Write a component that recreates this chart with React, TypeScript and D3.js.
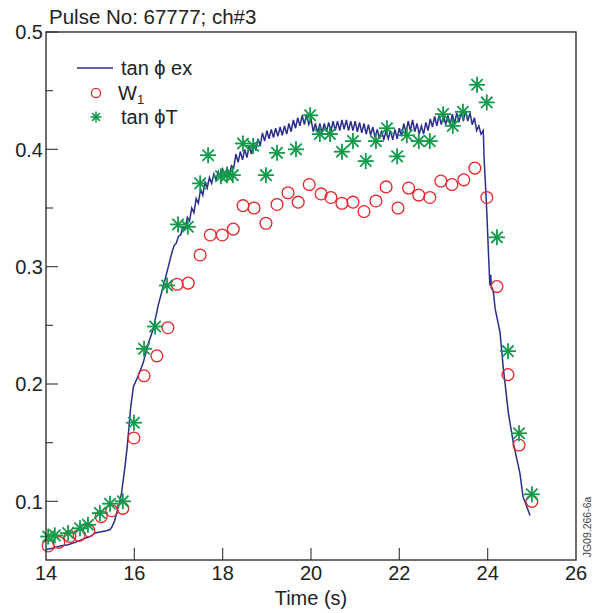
import React from "react";
import * as d3 from "d3";

const title = "Pulse No: 67777; ch#3";
const xTicks = [14, 16, 18, 20, 22, 24, 26];
const yTicks = [0.1, 0.2, 0.3, 0.4, 0.5];
const yMinorTicks = [0.15, 0.25, 0.35, 0.45];

// tan phi ex: rising edge (explicit samples)
const exRiseT = [14.0, 14.15, 14.32, 14.5, 14.66, 14.85, 15.0, 15.11, 15.25, 15.37, 15.45, 15.49, 15.55, 15.6, 15.66, 15.71, 15.79, 15.84, 15.92, 15.98, 16.09, 16.2, 16.32, 16.43, 16.54, 16.66, 16.77, 16.85];
const exRiseV = [0.059, 0.06, 0.062, 0.063, 0.065, 0.068, 0.07, 0.073, 0.074, 0.075, 0.076, 0.078, 0.083, 0.09, 0.098, 0.107, 0.13, 0.147, 0.181, 0.198, 0.207, 0.218, 0.235, 0.247, 0.267, 0.284, 0.3, 0.312];
// plateau, sampled every 0.05 s from 16.90 s
const exPlateauStart = 16.9;
const exPlateauStep = 0.05;
const exPlateauV = [
  0.318, 0.32, 0.326, 0.327, 0.334, 0.332, 0.342, 0.339, 0.35, 0.346,
  0.358, 0.354, 0.366, 0.361, 0.372, 0.367, 0.376, 0.371, 0.379, 0.374,
  0.381, 0.376, 0.383, 0.377, 0.384, 0.378, 0.386, 0.384, 0.396, 0.389,
  0.398, 0.391, 0.4, 0.393, 0.403, 0.396, 0.406, 0.399, 0.409, 0.403,
  0.414, 0.407, 0.416, 0.409, 0.417, 0.41, 0.418, 0.411, 0.419, 0.412,
  0.42, 0.413, 0.422, 0.415, 0.425, 0.418, 0.427, 0.42, 0.429, 0.421,
  0.43, 0.421, 0.426, 0.415, 0.422, 0.414, 0.422, 0.414, 0.422, 0.415,
  0.423, 0.415, 0.424, 0.416, 0.424, 0.416, 0.425, 0.417, 0.425, 0.416,
  0.424, 0.416, 0.424, 0.415, 0.423, 0.414, 0.422, 0.413, 0.421, 0.412,
  0.419, 0.41, 0.417, 0.409, 0.416, 0.408, 0.416, 0.409, 0.416, 0.408,
  0.417, 0.409, 0.418, 0.411, 0.422, 0.414, 0.424, 0.416, 0.425, 0.415,
  0.422, 0.413, 0.42, 0.413, 0.423, 0.416, 0.426, 0.419, 0.428, 0.42,
  0.429, 0.421, 0.429, 0.421, 0.429, 0.421, 0.43, 0.422, 0.431, 0.423,
  0.432, 0.424, 0.433, 0.424, 0.431, 0.421, 0.427, 0.416, 0.42, 0.413,
  0.416,
];
// falling edge (explicit samples)
const exFallT = [23.92, 23.95, 23.98, 24.02, 24.05, 24.07, 24.08, 24.1, 24.13, 24.17, 24.28, 24.35, 24.47, 24.58, 24.73, 24.8, 24.96];
const exFallV = [0.392, 0.37, 0.347, 0.31, 0.284, 0.293, 0.283, 0.282, 0.278, 0.264, 0.244, 0.215, 0.175, 0.15, 0.124, 0.104, 0.088];

// W1 (circles)
const w1T = [14.05, 14.29, 14.54, 14.75, 14.97, 15.25, 15.49, 15.74, 15.99, 16.22, 16.51, 16.76, 16.97, 17.22, 17.49, 17.72, 17.99, 18.24, 18.46, 18.71, 18.98, 19.23, 19.48, 19.71, 19.96, 20.23, 20.45, 20.7, 20.95, 21.2, 21.47, 21.7, 21.97, 22.21, 22.44, 22.69, 22.94, 23.19, 23.46, 23.71, 23.98, 24.21, 24.46, 24.71, 25.0];
const w1V = [0.062, 0.065, 0.07, 0.071, 0.075, 0.087, 0.092, 0.094, 0.154, 0.207, 0.224, 0.248, 0.285, 0.286, 0.31, 0.327, 0.327, 0.332, 0.352, 0.35, 0.337, 0.353, 0.363, 0.355, 0.37, 0.362, 0.359, 0.354, 0.355, 0.347, 0.356, 0.368, 0.35, 0.367, 0.361, 0.359, 0.373, 0.37, 0.374, 0.384, 0.359, 0.283, 0.208, 0.148, 0.1];

// tan phi T (asterisks)
const tT = [14.05, 14.2, 14.5, 14.77, 14.95, 15.22, 15.45, 15.74, 15.99, 16.22, 16.47, 16.74, 16.99, 17.21, 17.49, 17.67, 17.96, 18.1, 18.23, 18.46, 18.69, 18.98, 19.23, 19.66, 19.98, 20.2, 20.43, 20.7, 20.95, 21.24, 21.47, 21.72, 21.95, 22.17, 22.44, 22.69, 22.99, 23.21, 23.44, 23.76, 23.98, 24.21, 24.46, 24.71, 25.0];
const tV = [0.07, 0.071, 0.073, 0.077, 0.08, 0.09, 0.098, 0.1, 0.167, 0.23, 0.249, 0.284, 0.336, 0.334, 0.371, 0.395, 0.377, 0.378, 0.378, 0.405, 0.403, 0.378, 0.397, 0.4, 0.429, 0.413, 0.413, 0.398, 0.407, 0.39, 0.407, 0.418, 0.394, 0.412, 0.407, 0.407, 0.43, 0.42, 0.432, 0.455, 0.44, 0.325, 0.228, 0.158, 0.106];

const BLUE = "#2a2d8c";
const RED = "#e8262c";
const GREEN = "#119a4a";
const FONT = "'Liberation Sans', Arial, Helvetica, sans-serif";

const L = 46, R = 576, T = 32, B = 560;

function Asterisk({ x, y, r, sw }: { x: number; y: number; r: number; sw: number }) {
  const d = r * Math.SQRT1_2;
  return (
    <g stroke={GREEN} strokeWidth={sw} strokeLinecap="butt">
      <line x1={x - r} y1={y} x2={x + r} y2={y} />
      <line x1={x} y1={y - r} x2={x} y2={y + r} />
      <line x1={x - d} y1={y - d} x2={x + d} y2={y + d} />
      <line x1={x - d} y1={y + d} x2={x + d} y2={y - d} />
    </g>
  );
}

export default function App() {
  const x = d3.scaleLinear().domain([14, 26]).range([L, R]);
  const y = d3.scaleLinear().domain([0.05, 0.5]).range([B, T]);

  const exPts: [number, number][] = [];
  exRiseT.forEach((t, i) => exPts.push([t, exRiseV[i]]));
  exPlateauV.forEach((v, i) => exPts.push([exPlateauStart + i * exPlateauStep, v]));
  exFallT.forEach((t, i) => exPts.push([t, exFallV[i]]));

  const line = d3
    .line<[number, number]>()
    .x((d) => x(d[0]))
    .y((d) => y(d[1]));

  return (
    <svg
      width={596}
      height={613}
      style={{ position: "absolute", left: 0, top: 0, background: "#fff" }}
      fontFamily={FONT}
    >
      <rect x={0} y={0} width={596} height={613} fill="#fff" />
      {/* title */}
      <text x={49} y={24} fontSize={20.5} fill="#222">{title}</text>

      {/* y ticks */}
      {yTicks.map((v) => (
        <g key={"y" + v}>
          <line x1={L} x2={L + 12} y1={y(v)} y2={y(v)} stroke="#444" strokeWidth={1.2} />
          <text x={43} y={y(v)} dy="0.36em" textAnchor="end" fontSize={20} fill="#222">
            {v.toFixed(1)}
          </text>
        </g>
      ))}
      {yMinorTicks.map((v) => (
        <line key={"ym" + v} x1={L} x2={L + 7} y1={y(v)} y2={y(v)} stroke="#444" strokeWidth={1.2} />
      ))}
      {/* x ticks */}
      {xTicks.map((v) => (
        <g key={"x" + v}>
          {v > 14 && v < 26 && (
            <line x1={x(v)} x2={x(v)} y1={B} y2={B - 12} stroke="#444" strokeWidth={1.2} />
          )}
          <text x={x(v)} y={580} textAnchor="middle" fontSize={20} fill="#222">
            {v}
          </text>
        </g>
      ))}
      <text x={(L + R) / 2} y={605} textAnchor="middle" fontSize={20} fill="#222">
        Time (s)
      </text>
      <text
        transform={`translate(591, 527) rotate(-90)`}
        textAnchor="middle"
        fontSize={10.5}
        fill="#444"
      >
        JG09.266-6a
      </text>

      {/* data */}
      <path d={line(exPts) || ""} fill="none" stroke={BLUE} strokeWidth={1.5} />
      {w1T.map((t, i) => (
        <circle key={"c" + i} cx={x(t)} cy={y(w1V[i])} r={5.9} fill="none" stroke={RED} strokeWidth={1.3} />
      ))}
      {tT.map((t, i) => (
        <Asterisk key={"a" + i} x={x(t)} y={y(tV[i])} r={8} sw={1.8} />
      ))}

      {/* frame */}
      <rect x={L} y={T} width={R - L} height={B - T} fill="none" stroke="#222" strokeWidth={1.3} />

      {/* legend */}
      <line x1={77} x2={113} y1={68} y2={68} stroke={BLUE} strokeWidth={1.5} />
      <text x={121} y={75} fontSize={20} fill="#222">tan ϕ ex</text>
      <circle cx={96} cy={93} r={4.6} fill="none" stroke={RED} strokeWidth={1.3} />
      <text x={118} y={100} fontSize={20} fill="#222">
        W<tspan fontSize={13} dy={4}>1</tspan>
      </text>
      <Asterisk x={96} y={117} r={5.5} sw={1.6} />
      <text x={121} y={124} fontSize={20} fill="#222">tan ϕT</text>
    </svg>
  );
}
